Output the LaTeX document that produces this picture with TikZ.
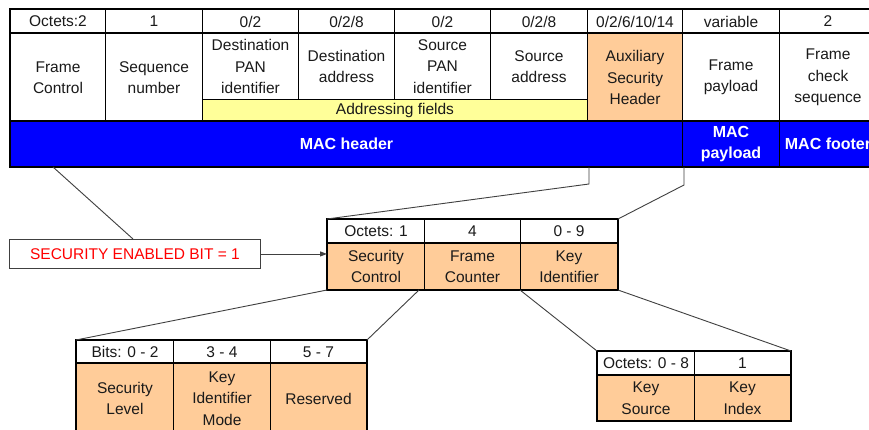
\documentclass[tikz,border=0pt]{standalone}
\usepackage{fontspec}
\setmainfont{Liberation Sans}
\usetikzlibrary{calc,arrows.meta}
\definecolor{peach}{HTML}{FFCC99}
\definecolor{lyellow}{HTML}{FFFF99}
\definecolor{macblue}{HTML}{0000FF}
\definecolor{conn}{HTML}{404040}
\definecolor{textdark}{HTML}{1A1A1A}
\newcommand{\cellfont}{\fontsize{15.5}{21.5}\selectfont}
\newcommand{\boldfont}{\fontsize{16}{21.5}\selectfont\bfseries}
\begin{document}
\begin{tikzpicture}[x=1pt,y=-1pt,
  cell/.style={draw=black, line width=1pt, inner sep=0pt, anchor=north west,
    align=center, font=\cellfont, text=textdark},
  sz/.style 2 args={minimum width=#1pt, minimum height=#2pt},
  hdr/.style={cell, fill=white},
  body/.style={cell, fill=white},
  peachcell/.style={cell, fill=peach},
  yell/.style={cell, fill=lyellow},
  mac/.style={cell, fill=macblue, text=white, font=\boldfont},
  outer/.style={draw=black, line width=2.5pt},
  sep/.style={draw=black, line width=2pt},
  connector/.style={draw=conn, line width=0.9pt},
  notebox/.style={draw=conn, line width=0.9pt, fill=white, inner sep=0pt,
    anchor=north west, font=\cellfont, text=red}
]
\clip (0,0) rectangle (869,430);
\fill[white] (0,0) rectangle (869,430);

% ---------------- top table: header row ----------------
\node[hdr, sz={95}{24}] (t1h) at (10,9) {Octets:2};
\node[hdr, sz={97}{24}] (t2h) at (105,9) {1};
\node[hdr, sz={96}{24}] (t3h) at (202,9) {0/2};
\node[hdr, sz={96}{24}] (t4h) at (298,9) {0/2/8};
\node[hdr, sz={96}{24}] (t5h) at (394,9) {0/2};
\node[hdr, sz={97}{24}] (t6h) at (490,9) {0/2/8};
\node[hdr, sz={95}{24}] (t7h) at (587,9) {0/2/6/10/14};
\node[hdr, sz={97}{24}] (t8h) at (682,9) {variable};
\node[hdr, sz={97}{24}] (t9h) at (779,9) {2};

% ---------------- top table: body row ----------------
\node[body, sz={95}{88}] (t1b) at (10,33) {Frame\\Control};
\node[body, sz={97}{88}] (t2b) at (105,33) {Sequence\\number};
\node[body, sz={96}{66}] (t3b) at (202,33) {Destination\\PAN\\identifier};
\node[body, sz={96}{66}] (t4b) at (298,33) {Destination\\address};
\node[body, sz={96}{66}] (t5b) at (394,33) {Source\\PAN\\identifier};
\node[body, sz={97}{66}] (t6b) at (490,33) {Source\\address};
\node[peachcell, sz={95}{88}] (aux) at (587,33) {Auxiliary\\Security\\Header};
\node[body, sz={97}{88}] (t8b) at (682,33) {Frame\\payload};
\node[body, sz={97}{88}] (t9b) at (779,33) {Frame\\check\\sequence};
\node[yell, sz={385}{22}] (addr) at (202,99) {Addressing fields};

% ---------------- top table: blue band ----------------
\node[mac, sz={672}{45}] (mach) at (10,121) {MAC header};
\node[mac, sz={97}{45}] (macp) at (682,121) {MAC\\payload};
\node[mac, sz={97}{45}] (macf) at (779,121) {MAC footer};

\draw[outer] (t1h.north west) rectangle (macf.south east);
\draw[sep] (t1b.north west) -- (t9b.north east);
\draw[sep] (mach.north west) -- (macf.north east);

% ---------------- security enabled note ----------------
\node[notebox, sz={251}{29}] (sec) at (9,239) {SECURITY ENABLED BIT = 1};

% ---------------- auxiliary security header table ----------------
\node[hdr, sz={97}{24}] (m1h) at (327,219) {Octets: 1};
\node[hdr, sz={96}{24}] (m2h) at (424,219) {4};
\node[hdr, sz={97}{24}] (m3h) at (520,219) {0 - 9};
\node[peachcell, sz={97}{46}] (m1b) at (327,243) {Security\\Control};
\node[peachcell, sz={96}{46}] (m2b) at (424,243) {Frame\\Counter};
\node[peachcell, sz={97}{46}] (m3b) at (520,243) {Key\\Identifier};
\draw[outer] (m1h.north west) rectangle (m3b.south east);
\draw[sep] (m1b.north west) -- (m3b.north east);

% ---------------- security control table ----------------
\node[hdr, sz={97}{23}] (b1h) at (76,340) {Bits: 0 - 2};
\node[hdr, sz={97}{23}] (b2h) at (173,340) {3 - 4};
\node[hdr, sz={96}{23}] (b3h) at (270,340) {5 - 7};
\node[peachcell, sz={97}{70}] (b1b) at (76,363) {Security\\Level};
\node[peachcell, sz={97}{70}] (b2b) at (173,363) {Key\\Identifier\\Mode};
\node[peachcell, sz={96}{70}] (b3b) at (270,363) {Reserved};
\draw[outer] (b1h.north west) rectangle (b3b.south east);
\draw[sep] (b1b.north west) -- (b3b.north east);

% ---------------- key identifier table ----------------
\node[hdr, sz={97}{24}] (r1h) at (597,351) {Octets: 0 - 8};
\node[hdr, sz={96}{24}] (r2h) at (694,351) {1};
\node[peachcell, sz={97}{45}] (r1b) at (597,375) {Key\\Source};
\node[peachcell, sz={96}{45}] (r2b) at (694,375) {Key\\Index};
\draw[outer] (r1h.north west) rectangle (r2b.south east);
\draw[sep] (r1b.north west) -- (r2b.north east);

% ---------------- connectors ----------------
\coordinate (k1) at (589,184);
\coordinate (k2) at (684,185);
\draw[connector] ([xshift=43pt]mach.south west) -- ([xshift=124pt]sec.north west);
\draw[connector, -{Triangle[length=7pt,width=5pt]}] (sec.east) -- (sec.east -| m1b.west);
\draw[connector] (k1 |- mach.south) -- (k1) -- (m1h.north west);
\draw[connector] (k2 |- macp.south) -- (k2) -- (m3h.north east);
\draw[connector] (m1b.south west) -- (b1h.north west);
\draw[connector] ([xshift=-6pt]m1b.south east) -- (b3h.north east);
\draw[connector] (m3b.south west) -- (r1h.north west);
\draw[connector] (m3b.south east) -- (r2h.north east);
\end{tikzpicture}
\end{document}
